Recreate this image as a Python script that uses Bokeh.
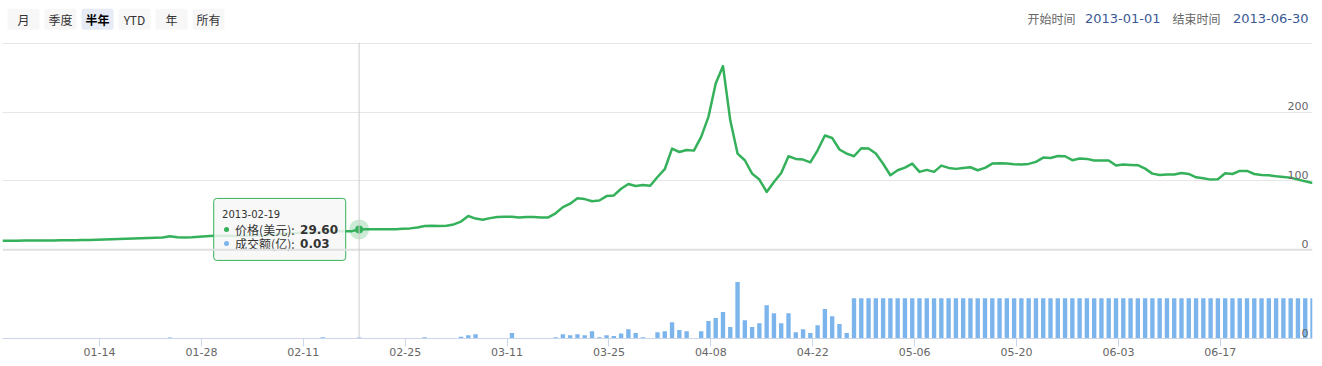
import pandas as pd
from bokeh.plotting import figure
from bokeh.layouts import column
from bokeh.models import Range1d, FixedTicker, DatetimeTickFormatter, Span
from bokeh.core.properties import value
from bokeh.embed import file_html
from bokeh.resources import INLINE

# ---------------- data ----------------
start_date = "2013-01-01"
end_date = "2013-06-30"
dates = pd.date_range(start_date, end_date, freq="D")

# price (USD), one value per day
price = [
    13.3, 13.3, 13.3, 13.4, 13.4, 13.4, 13.5, 13.6, 13.7, 13.8,
    14.0, 14.2, 14.4, 14.6, 14.8, 15.2, 15.6, 16.0, 16.4, 16.8,
    17.2, 17.6, 18.0, 19.6, 18.2, 17.9, 18.2, 18.8, 19.5, 20.4,
    20.4, 20.5, 20.0, 20.5, 20.4, 20.6, 21.2, 22.0, 22.6, 23.7,
    24.0, 24.6, 25.2, 24.5, 26.5, 27.0, 27.0, 26.9, 27.1, 29.6,
    29.8, 29.7, 30.0, 29.8, 29.9, 30.4, 31.1, 32.5, 34.5, 34.8,
    34.6, 35.0, 36.8, 41.0, 49.0, 45.3, 43.7, 46.0, 47.7, 48.0,
    48.0, 47.0, 47.5, 47.5, 47.0, 47.0, 53.0, 62.0, 67.0, 75.0,
    73.6, 70.4, 71.5, 78.0, 79.0, 88.7, 95.5, 92.6, 94.0, 93.0,
    105.7, 117.0, 147.0, 142.0, 145.0, 144.0, 164.0, 193.0, 241.6, 266.8,
    188.0, 139.7, 130.0, 110.6, 102.0, 84.0, 98.4, 111.5, 135.8, 132.0,
    131.0, 127.0, 144.5, 166.0, 162.4, 145.6, 139.7, 135.8, 147.5, 147.0,
    139.7, 125.0, 108.2, 115.5, 119.4, 125.2, 113.1, 116.0, 113.1, 122.3,
    118.9, 117.5, 118.9, 119.9, 115.5, 118.9, 125.2, 125.7, 125.2, 124.2,
    123.7, 124.7, 127.6, 133.9, 133.4, 136.3, 135.8, 130.1, 132.5, 132.0,
    129.6, 129.6, 129.6, 122.3, 123.7, 123.3, 122.8, 117.9, 110.6, 108.7,
    109.2, 109.2, 111.6, 110.1, 105.3, 103.8, 101.9, 102.4, 111.1, 110.1,
    114.5, 114.5, 110.1, 108.7, 108.2, 106.7, 105.8, 104.8, 101.9, 99.5,
    97.0,
]

# turnover (亿), one value per day
volume = [
    0, 0, 0, 0, 0, 0, 0, 0, 0, 0,
    0, 0, 0, 0, 0, 0, 0, 0, 0, 0,
    0, 0, 0, 0.03, 0, 0, 0, 0, 0, 0,
    0.01, 0, 0, 0, 0, 0, 0, 0, 0, 0,
    0, 0, 0.01, 0.01, 0.04, 0, 0, 0.01, 0, 0.03,
    0, 0, 0.01, 0.01, 0, 0, 0, 0, 0.04, 0,
    0, 0, 0.02, 0.06, 0.11, 0.14, 0.01, 0.01, 0, 0.01,
    0.18, 0.01, 0.01, 0, 0, 0, 0.04, 0.14, 0.11, 0.14,
    0.11, 0.24, 0.04, 0.11, 0.08, 0.17, 0.31, 0.18, 0.04, 0.01,
    0.21, 0.24, 0.54, 0.28, 0.24, 0.01, 0.24, 0.58, 0.68, 0.88,
    0.38, 1.88, 0.61, 0.38, 0.51, 1.11, 0.84, 0.51, 0.84, 0.21,
    0.31, 0.18, 0.44, 0.98, 0.74, 0.48, 0.18, 1.34, 1.34, 1.34,
    1.34, 1.34, 1.34, 1.34, 1.34, 1.34, 1.34, 1.34, 1.34, 1.34,
    1.34, 1.34, 1.34, 1.34, 1.34, 1.34, 1.34, 1.34, 1.34, 1.34,
    1.34, 1.34, 1.34, 1.34, 1.34, 1.34, 1.34, 1.34, 1.34, 1.34,
    1.34, 1.34, 1.34, 1.34, 1.34, 1.34, 1.34, 1.34, 1.34, 1.34,
    1.34, 1.34, 1.34, 1.34, 1.34, 1.34, 1.34, 1.34, 1.34, 1.34,
    1.34, 1.34, 1.34, 1.34, 1.34, 1.34, 1.34, 1.34, 1.34, 1.34,
    1.34,
]

tick_dates = ["2013-01-14", "2013-01-28", "2013-02-11", "2013-02-25",
              "2013-03-11", "2013-03-25", "2013-04-08", "2013-04-22",
              "2013-05-06", "2013-05-20", "2013-06-03", "2013-06-17"]
price_grid = [100, 200, 300]
price_labels = [0, 100, 200]
range_buttons = ["月", "季度", "半年", "YTD", "年", "所有"]
selected_button = "半年"
hover_date = "2013-02-19"
series_names = ["价格(美元)", "成交额(亿)"]

assert len(price) == len(dates) == len(volume)

GREEN = "#34b15a"
BLUE = "#7cb5ec"
DAY_MS = 86400000
# daily points are Beijing-time midnights (UTC+8)
x_ms = [int(t) // 10**6 - 8 * 3600 * 1000 for t in dates.asi8]
tick_ms = [int(t) // 10**6 for t in pd.to_datetime(tick_dates).asi8]

W = 1322
FRAME_L, FRAME_R = 2, 1312
FRAME_W = FRAME_R - FRAME_L
FRAME_H = 296
Y0, Y1 = -128.8, 301.0
VOL_MAX = 9.87

# ---------------- header (frame is aligned with the chart frame by the column) ----------
hdr = figure(width=W, height=40, x_range=Range1d(FRAME_L, FRAME_R), y_range=Range1d(40, 0),
             toolbar_location=None, output_backend="svg", min_border=0,
             min_border_left=FRAME_L, min_border_right=W - FRAME_R,
             x_axis_location=None, y_axis_location=None, outline_line_color=None)
hdr.grid.visible = False
bx = [7 + 16 + i * 37 for i in range(len(range_buttons))]
fills = ["#e6ebf5" if b == selected_button else "#f7f7f7" for b in range_buttons]
hdr.rect(x=bx, y=[18.8] * len(bx), width=32, height=21, fill_color=fills,
         line_color=None, border_radius=2)
norm = [i for i, b in enumerate(range_buttons) if b != selected_button]
sel = [i for i, b in enumerate(range_buttons) if b == selected_button]
hdr.text(x=[bx[i] for i in norm], y=[19] * len(norm), text=[range_buttons[i] for i in norm],
         text_align="center", text_baseline="middle", text_font=value("Noto Sans CJK SC"),
         text_font_size="12px", text_color="#333333")
hdr.text(x=[bx[i] for i in sel], y=[19] * len(sel), text=[range_buttons[i] for i in sel],
         text_align="center", text_baseline="middle", text_font=value("Noto Sans CJK SC"),
         text_font_size="12px", text_color="#000000", text_font_style="bold")
hdr.text(x=[1027, 1172], y=[18, 18], text=["开始时间", "结束时间"], text_align="left",
         text_baseline="middle", text_font=value("Noto Sans CJK SC"), text_font_size="12px",
         text_color="#666666")
hdr.text(x=[1160, 1308], y=[18, 18], text=[start_date, end_date], text_align="right",
         text_baseline="middle", text_font=value("DejaVu Sans"), text_font_size="13px",
         text_color="#3a5a95")

# ---------------- main chart ----------------
p = figure(width=W, height=326, x_axis_type="datetime",
           x_range=Range1d(x_ms[0], x_ms[-1]), y_range=Range1d(Y0, Y1),
           y_axis_location=None, toolbar_location=None, output_backend="svg",
           min_border_left=FRAME_L, min_border_right=W - FRAME_R, min_border_top=2,
           min_border_bottom=28, outline_line_color=None)
p.extra_y_ranges = {"vol": Range1d(0, VOL_MAX)}
p.xgrid.visible = False
p.ygrid.ticker = FixedTicker(ticks=price_grid)
p.ygrid.grid_line_color = "#e6e6e6"
p.add_layout(Span(location=0, dimension="width", line_color="#e0e0e0", line_width=2))

p.xaxis.ticker = FixedTicker(ticks=tick_ms)
p.xaxis.formatter = DatetimeTickFormatter(days="%m-%d", months="%m-%d", hours="%m-%d",
                                          years="%m-%d")
p.xaxis.axis_line_color = "#ccd6eb"
p.xaxis.major_tick_line_color = "#ccd6eb"
p.xaxis.major_tick_out = 8
p.xaxis.major_tick_in = 0
p.xaxis.minor_tick_line_color = None
p.xaxis.major_label_text_font = "DejaVu Sans"
p.xaxis.major_label_text_font_size = "11px"
p.xaxis.major_label_text_color = "#666666"
p.xaxis.major_label_standoff = 1

p.vbar(x=x_ms, top=volume, width=0.6 * DAY_MS, y_range_name="vol", fill_color=BLUE,
       line_color=None)

hi = list(dates.strftime("%Y-%m-%d")).index(hover_date)
xh, ph, vh = x_ms[hi], price[hi], volume[hi]
p.add_layout(Span(location=xh, dimension="height", line_color="#cccccc", line_width=1))

p.line(x=x_ms, y=price, line_color=GREEN, line_width=2.5, line_join="round")

# axis labels drawn inside the plot at the right edge
p.text(x=[x_ms[-1]] * len(price_labels), y=price_labels, text=[str(v) for v in price_labels],
       text_align="right", text_baseline="bottom", x_offset=-4, y_offset=-2,
       text_font=value("DejaVu Sans"), text_font_size="11px", text_color="#666666")
p.text(x=[x_ms[-1]], y=[0], text=["0"], y_range_name="vol", text_align="right",
       text_baseline="bottom", x_offset=-4, y_offset=-2,
       text_font=value("DejaVu Sans"), text_font_size="11px", text_color="#666666")

# hover marker
p.scatter(x=[xh], y=[ph], size=20, fill_color=GREEN, fill_alpha=0.25, line_color=None)
p.scatter(x=[xh], y=[ph], size=8, fill_color=GREEN, line_color=None)

# tooltip
ms_per_px = (x_ms[-1] - x_ms[0]) / FRAME_W
val_per_px = (Y1 - Y0) / FRAME_H
p.rect(x=[xh - 79.4 * ms_per_px], y=[ph], width=132, height=62, width_units="screen",
       height_units="screen", fill_color="#f7f7f7", fill_alpha=0.85, line_color=GREEN,
       line_width=1, border_radius=3)
p.text(x=[xh], y=[ph], text=[hover_date], x_offset=-137, y_offset=-15, text_align="left",
       text_baseline="middle", text_font=value("DejaVu Sans"), text_font_size="10px",
       text_color="#333333")
dot_x = xh - 132.6 * ms_per_px
p.scatter(x=[dot_x], y=[ph], size=5, fill_color=GREEN, line_color=None)
p.scatter(x=[dot_x], y=[ph - 14 * val_per_px], size=5, fill_color=BLUE, line_color=None)
p.text(x=[xh, xh], y=[ph, ph], text=[series_names[0] + ": ", series_names[1] + ": "],
       x_offset=-124, y_offset=[0, 14], text_align="left", text_baseline="middle",
       text_font=value("Noto Sans CJK SC"), text_font_size="12px", text_color="#333333")
p.text(x=[xh, xh], y=[ph, ph], text=["%.2f" % ph, "%.2f" % vh],
       x_offset=-59, y_offset=[0, 14], text_align="left", text_baseline="middle",
       text_font=value("DejaVu Sans"), text_font_size="12px", text_color="#333333",
       text_font_style="bold")

layout = column(hdr, p, spacing=0)
open("out.html", "w").write(file_html(layout, INLINE))
